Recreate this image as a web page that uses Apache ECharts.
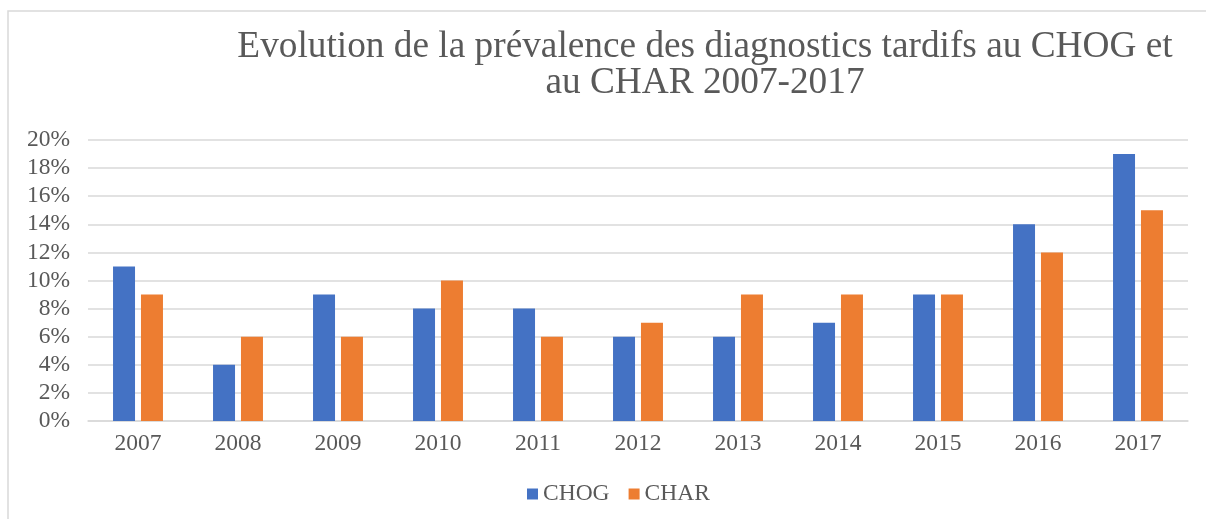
<!DOCTYPE html>
<html>
<head>
<meta charset="utf-8">
<script src="https://cdn.jsdelivr.net/npm/echarts@6/dist/echarts.min.js"></script>
<style>
  html, body {margin: 0; padding: 0; background: #fff;}
  #chart {width: 1206px; height: 519px;}
</style>
</head>
<body>
<div id="chart"></div>
<script>
const years = ['2007', '2008', '2009', '2010', '2011', '2012', '2013', '2014', '2015', '2016', '2017']
const chog = [11, 4, 9, 8, 8, 6, 6, 7, 9, 14, 19]
const char = [9, 6, 6, 10, 6, 7, 9, 9, 9, 12, 15]

const textColor = '#595959'
const font = '"Liberation Serif", "Times New Roman", serif'

let chart = echarts.init(document.getElementById('chart'))

let option = {
    animation: false,
    textStyle: {fontFamily: font},
    graphic: [{
        type: 'rect',
        shape: {x: 8, y: 11, width: 1220, height: 540},
        style: {fill: 'none', stroke: '#d9d9d9', lineWidth: 1.5},
        silent: true
    }],
    title: {
        text: 'Evolution de la prévalence des diagnostics tardifs au CHOG et\nau CHAR 2007-2017',
        left: 700,
        top: 24,
        textAlign: 'center',
        textStyle: {fontFamily: font, fontSize: 37.3, fontWeight: 'normal', color: textColor, lineHeight: 36}
    },
    legend: {
        top: 477,
        left: 522,
        itemWidth: 11,
        itemHeight: 11,
        itemGap: 19,
        icon: 'rect',
        textStyle: {fontFamily: font, fontSize: 23.5, color: textColor, padding: [0, 0, 0, 0]},
        data: ['CHOG', 'CHAR']
    },
    grid: {left: 88, right: 18, top: 140, bottom: 98},
    xAxis: {
        type: 'category',
        data: years,
        axisLine: {lineStyle: {color: '#d9d9d9', width: 1.5}},
        axisTick: {show: false},
        axisLabel: {fontFamily: font, fontSize: 23.5, color: textColor, margin: 11}
    },
    yAxis: {
        type: 'value',
        min: 0,
        max: 20,
        interval: 2,
        axisLine: {show: false},
        axisTick: {show: false},
        splitLine: {lineStyle: {color: '#d9d9d9', width: 1.5}},
        axisLabel: {fontFamily: font, fontSize: 23.5, color: textColor, margin: 18, formatter: '{value}%'}
    },
    series: [
        {
            name: 'CHOG',
            type: 'bar',
            barWidth: 22,
            barGap: '27%',
            itemStyle: {color: '#4472c4'},
            data: chog
        },
        {
            name: 'CHAR',
            type: 'bar',
            barWidth: 22,
            barGap: '27%',
            itemStyle: {color: '#ed7d31'},
            data: char
        }
    ]
}

chart.setOption(option)
</script>
</body>
</html>
